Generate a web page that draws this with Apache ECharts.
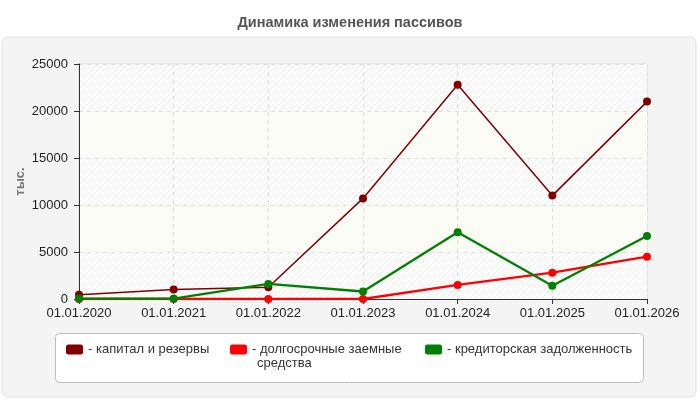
<!DOCTYPE html>
<html>
<head>
<meta charset="utf-8">
<script src="https://cdn.jsdelivr.net/npm/echarts@6/dist/echarts.min.js"></script>
<style>
  html, body { margin: 0; padding: 0; background: #fff; }
  #main { width: 700px; height: 400px; }
</style>
</head>
<body>
<div id="main"></div>
<script>
var dates = ['01.01.2020', '01.01.2021', '01.01.2022', '01.01.2023', '01.01.2024', '01.01.2025', '01.01.2026'];
var capital = [450, 1000, 1250, 10700, 22800, 11000, 21000];
var longTerm = [0, 0, 0, 0, 1500, 2800, 4500];
var creditors = [50, 50, 1600, 800, 7100, 1400, 6700];
var names = ['капитал и резервы', 'долгосрочные заемные средства', 'кредиторская задолженность'];
var colors = ['#800000', '#ff0000', '#008000'];

var font = 'Liberation Sans, Arial, sans-serif';

// hatched band like the original plot background
var hatch = document.createElement('canvas');
hatch.width = 6; hatch.height = 6;
var hc = hatch.getContext('2d');
hc.fillStyle = '#fdfdfd';
hc.fillRect(0, 0, 6, 6);
hc.strokeStyle = '#ededed';
hc.lineWidth = 1;
hc.beginPath();
hc.moveTo(0, 6); hc.lineTo(6, 0);
hc.moveTo(-3, 3); hc.lineTo(3, -3);
hc.moveTo(3, 9); hc.lineTo(9, 3);
hc.stroke();

var myChart = echarts.init(document.getElementById('main'));

var legendText = { color: '#333', fontSize: 13, fontFamily: font };
var legendBase = { itemWidth: 17, itemHeight: 10, icon: 'roundRect', padding: 0, top: 343, textStyle: legendText };

myChart.setOption({
    animation: false,
    title: {
        text: 'Динамика изменения пассивов',
        left: 'center',
        top: 10,
        textStyle: { color: '#555', fontSize: 14.5, fontWeight: 'bold', fontFamily: font }
    },
    graphic: [
        { type: 'rect', z: -10, shape: { x: 2, y: 37, width: 694, height: 360, r: 6 },
          style: { fill: '#f4f4f4', stroke: '#e2e2e2', lineWidth: 1 } },
        { type: 'rect', z: -10, shape: { x: 55.5, y: 333.5, width: 588, height: 49, r: 4 },
          style: { fill: '#fff', stroke: '#bdbdbd', lineWidth: 1 } },
        { type: 'text', left: 257, top: 357, style: { text: 'средства', fill: '#333', font: '13px ' + font } }
    ],
    grid: {
        left: 79, right: 53, top: 64, bottom: 101,
        show: true, borderColor: '#dcdcdc', borderWidth: 1, backgroundColor: 'transparent'
    },
    legend: [
        Object.assign({ data: [names[0]], left: 66, formatter: function (n) { return '- ' + n; } }, legendBase),
        Object.assign({ data: [names[1]], left: 230, formatter: function () { return '- долгосрочные заемные'; } }, legendBase),
        Object.assign({ data: [names[2]], left: 425, formatter: function (n) { return '- ' + n; } }, legendBase)
    ],
    xAxis: {
        type: 'category',
        boundaryGap: false,
        data: dates,
        axisLine: { lineStyle: { color: '#333' } },
        axisTick: { show: true, length: 5, lineStyle: { color: '#333' } },
        axisLabel: { color: '#222', fontSize: 13, margin: 8, fontFamily: font },
        splitLine: { show: true, lineStyle: { color: '#dedede', type: [4, 4] } }
    },
    yAxis: {
        type: 'value',
        min: 0, max: 25000, interval: 5000,
        name: 'тыс.',
        nameLocation: 'middle',
        nameGap: 52,
        nameMoveOverlap: false,
        nameRotate: 90,
        nameTextStyle: { color: '#777', fontSize: 13, fontWeight: 'bold', fontFamily: font },
        axisLine: { show: true, lineStyle: { color: '#333' } },
        axisTick: { show: true, length: 5, lineStyle: { color: '#333' } },
        axisLabel: { color: '#222', fontSize: 13, margin: 11, fontFamily: font,
                     formatter: function (v) { return String(v); } },
        splitLine: { show: true, lineStyle: { color: '#dedede', type: [4, 4] } },
        splitArea: { show: true, areaStyle: { color: [{ image: hatch, repeat: 'repeat' }, '#fcfcf7'] } }
    },
    series: [
        { name: names[0], type: 'line', data: capital, color: colors[0], symbol: 'circle', symbolSize: 8,
          lineStyle: { width: 1.5 } },
        { name: names[1], type: 'line', data: longTerm, color: colors[1], symbol: 'circle', symbolSize: 8,
          lineStyle: { width: 2.3 } },
        { name: names[2], type: 'line', data: creditors, color: colors[2], symbol: 'circle', symbolSize: 8,
          lineStyle: { width: 2.3 } }
    ]
});
</script>
</body>
</html>
